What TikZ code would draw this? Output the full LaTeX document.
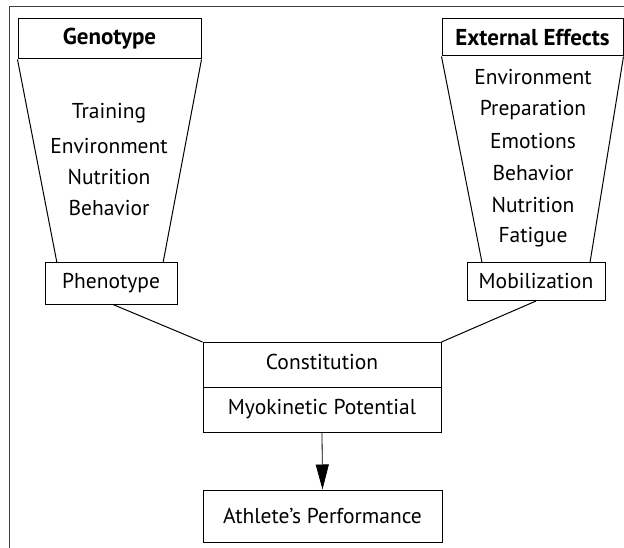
\documentclass[tikz,border=0pt]{standalone}
\usepackage{fontspec}
\setmainfont{PT Sans}
\usetikzlibrary{arrows.meta}
\begin{document}
\begin{tikzpicture}[x=1pt,y=-1pt,
  box/.style={draw,line width=1pt,inner sep=0pt},
  lbl/.style={font=\fontsize{21.5}{24}\selectfont,inner sep=0pt,anchor=center},
  bl/.style={font=\fontsize{23}{26}\selectfont\bfseries,inner sep=0pt,anchor=center},
  ln/.style={line width=1pt}]
\useasboundingbox (0,0) rectangle (624,548);
% outer frame
\draw[line width=1.4pt,black!75] (9.5,548) -- (9.5,6.5) -- (624,6.5);
% Genotype
\node[box,minimum width=183pt,minimum height=40pt] (geno) at (109.5,39) {};
\node[bl] (genot) at (geno.center) {Genotype};
\node[box,minimum width=132pt,minimum height=41pt] (pheno) at (111,283.5) {};
\node[lbl] (phenot) at (pheno.center) {Phenotype};
\coordinate (gl) at (57,263);
\coordinate (gr) at (163,263);
\draw[ln] (geno.south west) -- (gl);
\draw[ln] (geno.south east) -- (gr);
\node[lbl] (g1) at (109,113) {Training};
\node[lbl] (g2) at (109,146) {Environment};
\node[lbl] (g3) at (109,177) {Nutrition};
\node[lbl] (g4) at (109,208) {Behavior};
% External effects
\node[box,minimum width=181pt,minimum height=37pt] (ext) at (532.5,37.5) {};
\node[bl] (extt) at (ext.center) {External Effects};
\node[box,minimum width=138pt,minimum height=38pt] (mob) at (536,281.5) {};
\node[lbl] (mobt) at (mob.center) {Mobilization};
\coordinate (el) at (482,262.5);
\coordinate (er) at (590,262.5);
\draw[ln] (ext.south west) -- (el);
\draw[ln] (ext.south east) -- (er);
\node[lbl] (e1) at (533,77) {Environment};
\node[lbl] (e2) at (533,110) {Preparation};
\node[lbl] (e3) at (533,141) {Emotions};
\node[lbl] (e4) at (533,173) {Behavior};
\node[lbl] (e5) at (533,205) {Nutrition};
\node[lbl] (e6) at (533,237) {Fatigue};
% Constitution
\node[box,minimum width=238pt,minimum height=90pt] (con) at (322,387.5) {};
\draw[ln] (con.west) -- (con.east);
\node[lbl] (cont) at (322,362) {Constitution};
\node[lbl] (myo) at (322,409) {Myokinetic Potential};
% Athlete
\node[box,minimum width=239pt,minimum height=52pt] (ath) at (322.5,516) {};
\node[lbl] (atht) at (ath.center) {Athlete's Performance};
% connectors
\draw[ln] ([xshift=2pt]pheno.south) -- (con.north west);
\draw[ln] (mob.south) -- (con.north east);
\draw[line width=0.8pt,-{Triangle[length=25pt,width=13pt]}] (con.south) -- (ath.north);
\end{tikzpicture}
\end{document}
